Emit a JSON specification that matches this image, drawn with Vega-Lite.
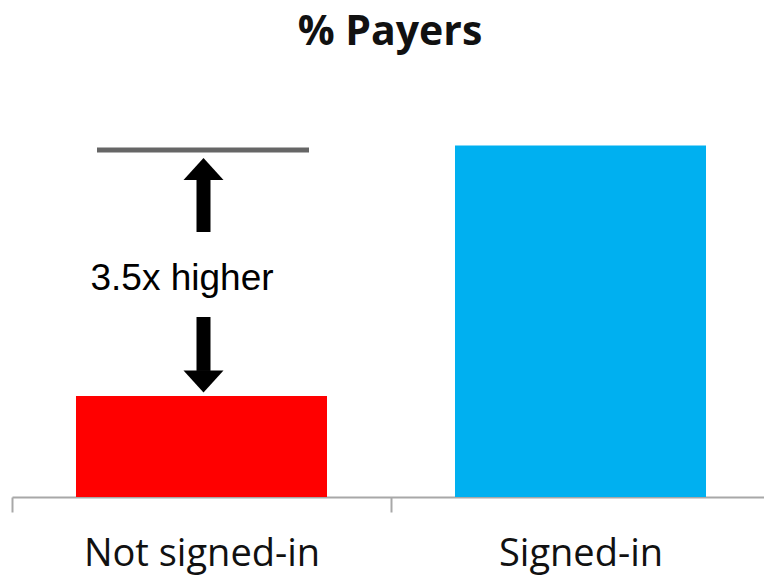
{
  "$schema": "https://vega.github.io/schema/vega-lite/v6.json",
  "autosize": "none",
  "width": 752,
  "height": 404,
  "padding": {"left": 12, "top": 93, "right": 0, "bottom": 79},
  "background": "white",
  "title": {
    "text": "% Payers",
    "anchor": "middle",
    "frame": "group",
    "font": "Open Sans",
    "fontSize": 41,
    "fontWeight": "bold",
    "color": "#111111",
    "baseline": "alphabetic",
    "offset": 7,
    "dx": 2
  },
  "datasets": {
    "bars": [
      {"status": "Not signed-in", "payers": 1.0},
      {"status": "Signed-in", "payers": 3.48}
    ],
    "level": [
      {"status": "Not signed-in", "value": 3.436}
    ],
    "shafts": [
      {"status": "Not signed-in", "from": 3.149, "to": 2.624},
      {"status": "Not signed-in", "from": 1.782, "to": 1.248}
    ],
    "heads": [
      {"status": "Not signed-in", "dir": "up", "value": 3.248},
      {"status": "Not signed-in", "dir": "down", "value": 1.144}
    ],
    "note": [
      {"status": "Not signed-in", "value": 2.05, "label": "3.5x higher"}
    ]
  },
  "layer": [
    {
      "data": {"name": "bars"},
      "mark": {"type": "bar", "width": {"band": 0.6623}},
      "encoding": {
        "x": {
          "field": "status",
          "type": "nominal",
          "sort": ["Not signed-in", "Signed-in"],
          "scale": {"range": [0, 758], "paddingInner": 0, "paddingOuter": 0},
          "axis": {
            "title": null,
            "labelAngle": 0,
            "labelLimit": 0,
            "domainColor": "#a8a8a8",
            "domainWidth": 2,
            "tickColor": "#a8a8a8",
            "tickWidth": 2,
            "tickSize": 15,
            "tickBand": "extent",
            "labelFont": "Open Sans",
            "labelFontSize": 38,
            "labelColor": "#111111",
            "labelPadding": 53,
            "labelBaseline": "alphabetic"
          }
        },
        "y": {
          "field": "payers",
          "type": "quantitative",
          "scale": {"domain": [0, 4], "nice": false, "zero": true},
          "axis": null
        },
        "color": {
          "field": "status",
          "type": "nominal",
          "scale": {"domain": ["Not signed-in", "Signed-in"], "range": ["#ff0000", "#00b0f0"]},
          "legend": null
        }
      }
    },
    {
      "data": {"name": "level"},
      "mark": {"type": "tick", "size": 212, "thickness": 5, "color": "#666666", "xOffset": 1.5, "opacity": 1},
      "encoding": {
        "x": {"field": "status", "type": "nominal"},
        "y": {"field": "value", "type": "quantitative"}
      }
    },
    {
      "data": {"name": "shafts"},
      "mark": {"type": "rule", "strokeWidth": 14, "color": "#000000", "xOffset": 2, "strokeCap": "butt"},
      "encoding": {
        "x": {"field": "status", "type": "nominal"},
        "y": {"field": "from", "type": "quantitative"},
        "y2": {"field": "to"}
      }
    },
    {
      "data": {"name": "heads"},
      "mark": {"type": "point", "filled": true, "size": 1600, "color": "#000000", "opacity": 1, "strokeWidth": 0, "xOffset": 2},
      "encoding": {
        "x": {"field": "status", "type": "nominal"},
        "y": {"field": "value", "type": "quantitative"},
        "shape": {
          "field": "dir",
          "type": "nominal",
          "scale": {"domain": ["up", "down"], "range": ["M-1,0.55L0,-0.55L1,0.55Z", "M-1,-0.55L0,0.55L1,-0.55Z"]},
          "legend": null
        }
      }
    },
    {
      "data": {"name": "note"},
      "mark": {"type": "text", "font": "Liberation Sans", "fontSize": 37, "color": "#000000", "baseline": "alphabetic", "align": "center", "dx": -19.5},
      "encoding": {
        "x": {"field": "status", "type": "nominal"},
        "y": {"field": "value", "type": "quantitative"},
        "text": {"field": "label"}
      }
    }
  ],
  "config": {
    "view": {"stroke": null}
  }
}
